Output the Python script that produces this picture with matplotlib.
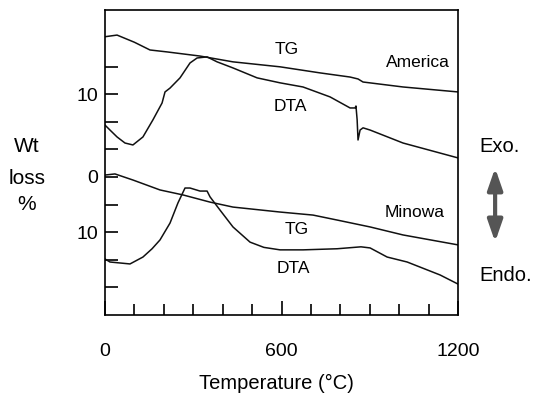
import matplotlib
matplotlib.use("Agg")
import matplotlib.pyplot as plt

plt.rcParams['font.family'] = ['Liberation Sans', 'DejaVu Sans']

# traces; y is in chart levels (one left tick = one level)
am_tg_t = [0, 41, 100, 153, 211, 323, 435, 595, 731, 833, 860, 877, 1013, 1200]
am_tg_y = [10.08, 10.14, 9.88, 9.60, 9.53, 9.38, 9.17, 8.99, 8.77, 8.62, 8.55, 8.44, 8.26, 8.08]

am_dta_t = [0, 17, 41, 68, 95, 129, 163, 194, 204, 221, 255, 289, 313, 347, 381,
            435, 517, 595, 673, 765, 833, 850, 853, 857, 860, 867, 877, 901, 1013, 1200]
am_dta_y = [6.88, 6.70, 6.45, 6.23, 6.16, 6.45, 7.07, 7.68, 8.08, 8.22, 8.59, 9.13,
            9.31, 9.35, 9.17, 8.95, 8.59, 8.41, 8.26, 7.90, 7.50, 7.50, 7.57, 7.07,
            6.34, 6.70, 6.78, 6.70, 6.23, 5.69]

mi_tg_t = [0, 34, 95, 187, 265, 357, 435, 595, 707, 789, 901, 1013, 1200]
mi_tg_y = [5.07, 5.11, 4.89, 4.53, 4.35, 4.09, 3.91, 3.73, 3.62, 3.44, 3.19, 2.90, 2.54]

mi_dta_t = [0, 17, 85, 129, 160, 187, 221, 248, 272, 289, 323, 347, 357, 391, 435,
            493, 540, 595, 673, 789, 870, 901, 959, 1027, 1139, 1200]
mi_dta_y = [2.03, 1.92, 1.85, 2.10, 2.40, 2.72, 3.33, 4.06, 4.60, 4.60, 4.49, 4.49, 4.28,
            3.80, 3.19, 2.64, 2.45, 2.36, 2.36, 2.40, 2.47, 2.43, 2.10, 1.92, 1.45, 1.12]

y_ticks = [1, 2, 3, 4, 5, 6, 7, 8, 9]
y_tick_labels = ['', '', '10', '', '0', '', '', '10', '']
x_major = [0, 600, 1200]
x_minor = [100, 200, 300, 400, 500, 700, 800, 900, 1000, 1100]

fig = plt.figure(figsize=(5.37, 3.98), dpi=100)
ax = fig.add_axes([0.1955, 0.2085, 0.6575, 0.7665])

for t, y in [(am_tg_t, am_tg_y), (am_dta_t, am_dta_y),
             (mi_tg_t, mi_tg_y), (mi_dta_t, mi_dta_y)]:
    ax.plot(t, y, color='#111111', lw=1.1)

ax.set_xlim(0, 1200)
ax.set_ylim(0, 11.05)

ax.set_xticks(x_major)
ax.set_xticklabels([str(v) for v in x_major])
ax.set_xticks(x_minor, minor=True)
ax.set_yticks(y_ticks)
ax.set_yticklabels(y_tick_labels)

ax.tick_params(axis='x', which='major', direction='in', length=10, width=1.2,
               pad=20, labelsize=14)
ax.tick_params(axis='x', which='minor', direction='in', length=8, width=1.2)
ax.tick_params(axis='y', direction='in', length=9, width=1.2, pad=5, labelsize=14)
for s in ax.spines.values():
    s.set_linewidth(1.2)

ax.set_xlabel('Temperature (°C)', fontsize=14.5, va='center')
ax.xaxis.set_label_coords(0.487, -0.223)

kw = dict(fontsize=12.5, ha='center', va='center')
ax.text(619, 9.60, 'TG', **kw)
ax.text(1064, 9.13, 'America', **kw)
ax.text(629, 7.54, 'DTA', **kw)
ax.text(1054, 3.73, 'Minowa', **kw)
ax.text(653, 3.08, 'TG', **kw)
ax.text(639, 1.70, 'DTA', **kw)

for txt, yy in [('Wt', 147), ('loss', 178), ('%', 205)]:
    fig.text(27 / 537, 1 - yy / 398, txt, fontsize=15, ha='center', va='center')

fig.text(0.931, 0.631, 'Exo.', fontsize=14.5, ha='center', va='center')
fig.text(0.942, 0.309, 'Endo.', fontsize=14.5, ha='center', va='center')
fig.patches.append(matplotlib.patches.FancyArrowPatch(
    (0.922, 0.585), (0.922, 0.385), transform=fig.transFigure,
    arrowstyle='<|-|>,head_length=13,head_width=4.5', mutation_scale=1,
    color='#555555', lw=3))

fig.savefig('out.png', dpi=100)
